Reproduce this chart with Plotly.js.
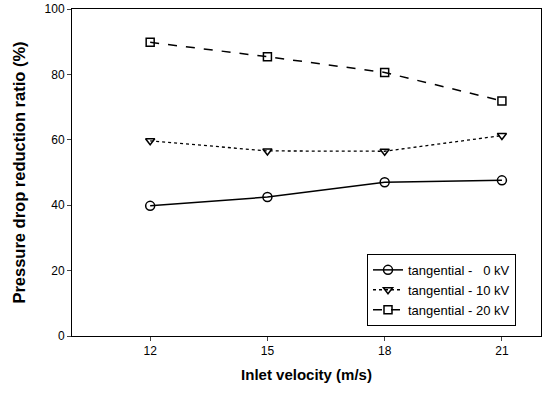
<!DOCTYPE html>
<html><head><meta charset="utf-8">
<script src="https://cdn.plot.ly/plotly-3.0.1.min.js"></script>
<style>html,body{margin:0;padding:0;background:#fff}#c{width:547px;height:393px}</style>
</head><body><div id="c"></div>
<script>
const velocity = [12, 15, 18, 21];
const kv0 = [39.8, 42.5, 47.0, 47.6];
const kv10 = [59.7, 56.6, 56.5, 61.3];
const kv20 = [89.8, 85.4, 80.6, 71.9];
const names = ['tangential -   0 kV', 'tangential - 10 kV', 'tangential - 20 kV'];
const yTicks = [0, 20, 40, 60, 80, 100];

const common = {type: 'scatter', mode: 'lines+markers', x: velocity};
const data = [
  Object.assign({}, common, {y: kv0, name: names[0],
    line: {color: '#000', width: 1.5, dash: 'solid'},
    marker: {symbol: 'circle-open', size: 9, color: '#000', line: {width: 1.5}}}),
  Object.assign({}, common, {y: kv10, name: names[1],
    line: {color: '#000', width: 1.3, dash: 'dot'},
    marker: {symbol: 'triangle-down-open', size: 8, color: '#000', line: {width: 1.5}}}),
  Object.assign({}, common, {y: kv20, name: names[2],
    line: {color: '#000', width: 1.5, dash: 'dash'},
    marker: {symbol: 'square-open', size: 8, color: '#000', line: {width: 1.5}}})
];
const layout = {
  width: 547, height: 393,
  margin: {l: 72, r: 6, t: 9, b: 57},
  paper_bgcolor: '#fff', plot_bgcolor: '#fff',
  font: {family: 'Liberation Sans, Arial, sans-serif', color: '#000', size: 12},
  showlegend: true,
  legend: {x: 0.629, y: 0.251, xanchor: 'left', yanchor: 'top',
    bgcolor: '#fff', bordercolor: '#000', borderwidth: 1,
    font: {size: 13}, tracegroupgap: 0, itemwidth: 30},
  xaxis: {range: [10, 22], tickvals: velocity, ticks: 'outside', ticklen: 4,
    showline: true, linecolor: '#000', linewidth: 1, mirror: true,
    showgrid: false, zeroline: false, tickfont: {size: 12},
    title: {text: '<b>Inlet velocity (m/s)</b>', font: {size: 15}, standoff: 12}},
  yaxis: {range: [0, 100], tickvals: yTicks, ticks: 'outside', ticklen: 4,
    showline: true, linecolor: '#000', linewidth: 1, mirror: true,
    showgrid: false, zeroline: false, tickfont: {size: 12},
    title: {text: '<b>Pressure drop reduction ratio (%)</b>', font: {size: 16.5}, standoff: 14}}
};
Plotly.newPlot('c', data, layout, {displayModeBar: false, staticPlot: true});
</script></body></html>
